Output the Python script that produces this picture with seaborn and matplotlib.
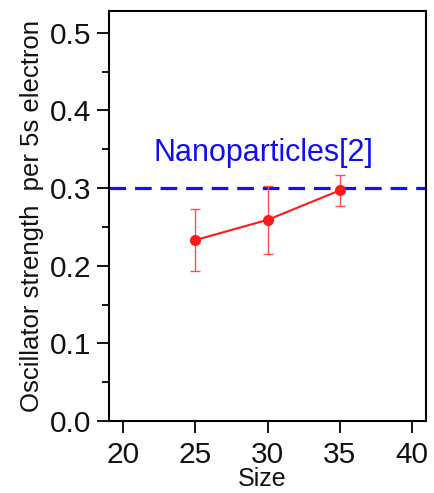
import matplotlib
matplotlib.use("Agg")
import matplotlib.pyplot as plt
import seaborn as sns
import pandas as pd
from matplotlib.ticker import MultipleLocator

sizes = [25, 30, 35]
strength = [0.233, 0.259, 0.297]
errors = [0.040, 0.044, 0.020]
reference_value = 0.3
reference_label = "Nanoparticles[2]"
x_ticks = [20, 25, 30, 35, 40]
y_ticks = [0.0, 0.1, 0.2, 0.3, 0.4, 0.5]

sns.set_theme(style="ticks")
plt.rcParams['font.family'] = ['Liberation Sans', 'DejaVu Sans']

df = pd.DataFrame({"Size": sizes, "Strength": strength, "Err": errors})

fig = plt.figure(figsize=(4.34, 4.93), dpi=100)
ax = fig.add_axes([0.2512, 0.146, 0.7304, 0.8317])

ax.axhline(reference_value, color="#1010ff", lw=2.3, ls=(0, (5.2, 2.8)), zorder=2)
ax.errorbar(df["Size"], df["Strength"], yerr=df["Err"], fmt="none",
            ecolor="#ff5050", elinewidth=1.0, capsize=3.8, capthick=1.0, zorder=3)
sns.lineplot(data=df, x="Size", y="Strength", ax=ax, color="#ff1a1a",
             lw=1.5, marker="o", markersize=8, markeredgewidth=0, zorder=4)

ax.text(29.7, 0.345, reference_label, color="#1010ee", fontsize=22,
        ha="center", va="center")

ax.set_xlim(19.03, 40.97)
ax.set_ylim(0.0, 0.528)
ax.set_xticks(x_ticks)
ax.set_yticks(y_ticks)
ax.set_xticklabels([str(v) for v in x_ticks])
ax.set_yticklabels([f"{v:.1f}" for v in y_ticks])
ax.yaxis.set_minor_locator(MultipleLocator(0.05))

ax.tick_params(axis="both", which="major", direction="out", length=8.6,
               width=1.3, labelsize=21.5, color="black", labelcolor="#111111")
ax.tick_params(axis="x", which="major", pad=6)
ax.tick_params(axis="y", which="major", pad=4)
ax.tick_params(axis="y", which="minor", direction="out", length=5, width=1.3, color="black")

for sp in ax.spines.values():
    sp.set_visible(True)
    sp.set_color("black")
    sp.set_linewidth(1.5)

ax.set_xlabel("Size", fontsize=18, color="#111111")
ax.set_ylabel("Oscillator strength  per 5s electron", fontsize=18.5, color="#111111")
ax.xaxis.set_label_coords(0.484, -0.113)
ax.yaxis.set_label_coords(-0.205, 0.5)

fig.savefig("out.png", dpi=100)
